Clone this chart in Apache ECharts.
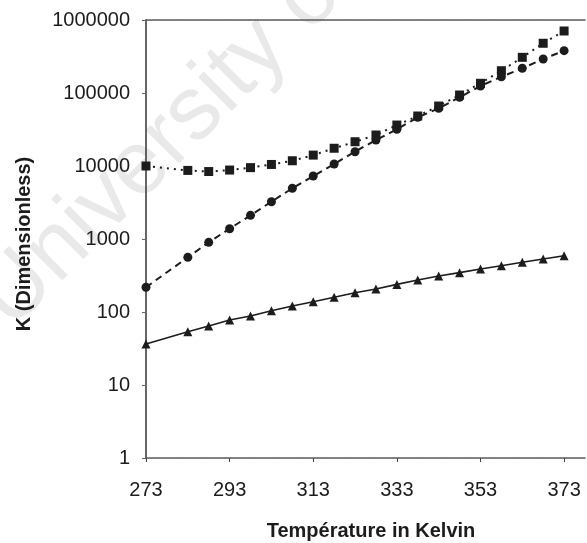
<!DOCTYPE html>
<html>
<head>
<meta charset="utf-8">
<script src="https://cdn.jsdelivr.net/npm/echarts@6/dist/echarts.min.js"></script>
<style>html,body{margin:0;padding:0;background:#fff;}#c{width:587px;height:543px;}</style>
</head>
<body>
<div id="c"></div>
<script>
const temps = [273, 283, 288, 293, 298, 303, 308, 313, 318, 323, 328, 333, 338, 343, 348, 353, 358, 363, 368, 373];
const squareK = [10000, 8700, 8400, 8800, 9500, 10500, 11800, 14100, 17500, 21500, 26600, 36400, 48400, 66300, 93900, 135800, 202000, 308000, 480000, 707000];
const circleK = [218, 561, 900, 1384, 2110, 3240, 4950, 7290, 10650, 15700, 22700, 31800, 46400, 61700, 87300, 124700, 167000, 218000, 292000, 380000];
const triangleK = [36.5, 53.7, 64.3, 77.6, 88, 104, 121, 138, 159, 184, 207, 239, 274, 311, 346, 388, 431, 480, 532, 590];
const xTicks = [273, 293, 313, 333, 353, 373];
const yTicks = [1, 10, 100, 1000, 10000, 100000, 1000000];

const pair = (ys) => temps.map((t, i) => [t, ys[i]]);
const font = 'Liberation Sans, Arial, sans-serif';
const ink = '#1c1c1c';

const chart = echarts.init(document.getElementById('c'));
chart.setOption({
  animation: false,
  backgroundColor: '#fff',
  grid: { left: 146, top: 20, right: 2, bottom: 85 },
  graphic: [
    { type: 'text', z: -10, x: 26, y: 345, rotation: Math.PI / 4,
      style: { text: 'University of Cape Town', fontSize: 90, fontFamily: font, fill: '#e9e9e9', textAlign: 'left', textVerticalAlign: 'bottom' } },
    { type: 'text', x: 24, y: 244, rotation: Math.PI / 2,
      style: { text: 'K (Dimensionless)', fontSize: 20, fontWeight: 'bold', fontFamily: font, fill: ink, textAlign: 'center', textVerticalAlign: 'middle' } },
    { type: 'text', x: 371, y: 531,
      style: { text: 'Température in Kelvin', fontSize: 20, fontWeight: 'bold', fontFamily: font, fill: ink, textAlign: 'center', textVerticalAlign: 'middle' } }
  ],
  xAxis: [{
    type: 'value', min: 273, max: 378,
    axisLine: { show: true, onZero: false, lineStyle: { color: '#555', width: 1.5, type: [2, 1] } },
    axisTick: { show: true, customValues: xTicks, length: 4, lineStyle: { color: '#444' } },
    axisLabel: { customValues: xTicks, margin: 22, fontSize: 20, fontFamily: font, color: ink },
    splitLine: { show: false }
  }, {
    type: 'value', min: 273, max: 378, position: 'top',
    axisLine: { show: true, onZero: false, lineStyle: { color: '#555', width: 1.5, type: [2, 1] } },
    axisTick: { show: false }, axisLabel: { show: false }, splitLine: { show: false }
  }],
  yAxis: {
    type: 'log', logBase: 10, min: 1, max: 1000000,
    axisLine: { show: true, onZero: false, lineStyle: { color: '#333', width: 1.5 } },
    axisTick: { show: true, length: 4, lineStyle: { color: '#666' } },
    axisLabel: { margin: 16, fontSize: 20, fontFamily: font, color: ink, formatter: v => String(v) },
    splitLine: { show: false }, minorTick: { show: false }
  },
  series: [
    { type: 'line', data: pair(squareK), symbol: 'rect', symbolSize: 9,
      itemStyle: { color: ink }, lineStyle: { color: ink, width: 2, type: [2, 5] } },
    { type: 'line', data: pair(circleK), symbol: 'circle', symbolSize: 9,
      itemStyle: { color: ink }, lineStyle: { color: ink, width: 2, type: [7, 5] } },
    { type: 'line', data: pair(triangleK), symbol: 'triangle', symbolSize: 9,
      itemStyle: { color: ink }, lineStyle: { color: ink, width: 1.6, type: 'solid' } }
  ]
});
</script>
</body>
</html>
